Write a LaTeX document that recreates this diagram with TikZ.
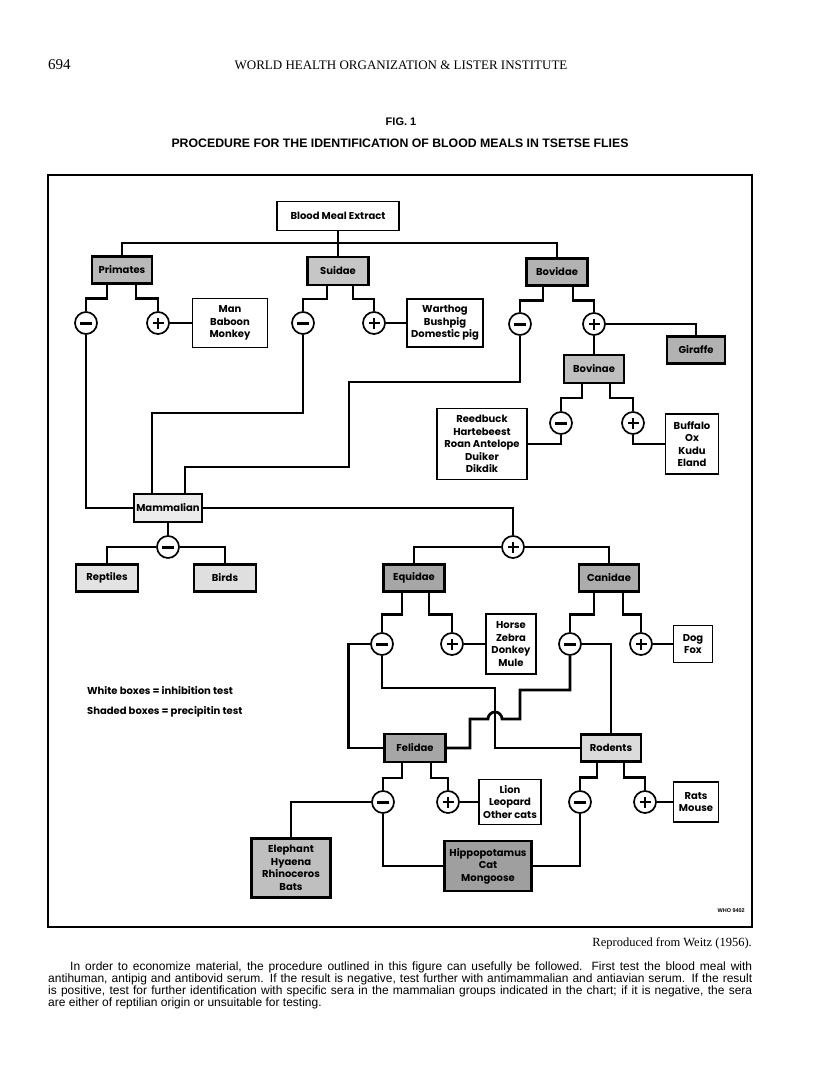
\documentclass[tikz,border=0pt]{standalone}
\usepackage{fontspec}
\setmainfont{Liberation Serif}
\newfontfamily\boxfont{Poppins}
\newfontfamily\capfont{Liberation Sans}
\usetikzlibrary{calc}

\begin{document}
\begin{tikzpicture}[
    x=1pt, y=-1pt,
    box/.style={draw, line width=1.6pt, fill=white, align=center, inner sep=2pt, font=\boxfont\bfseries\fontsize{10}{12.5}\selectfont},
    grbox/.style={box, line width=2.2pt, fill=gray!#1},
    sign/.style={circle, draw, line width=1.7pt, fill=white, minimum size=22pt, inner sep=0pt},
    pluscirc/.style={sign, path picture={\draw[line width=2.6pt] ($(path picture bounding box.center)+(-5.5pt,0)$) -- ++(11pt,0) ($(path picture bounding box.center)+(0,-5.5pt)$) -- ++(0,11pt);}},
    minuscirc/.style={sign, path picture={\draw[line width=3pt] ($(path picture bounding box.center)+(-6pt,0)$) -- ++(12pt,0);}},
    conn/.style={line width=2.7pt},
    plain/.style={inner sep=0pt},
    para/.style={plain, anchor=west, font=\capfont\fontsize{12}{12}\selectfont}
]
    \useasboundingbox (0,0) rectangle (816,1086);
    \fill[white] (0,0) rectangle (816,1086);

    \node[plain, anchor=west, font=\fontsize{15}{16}\selectfont] (page) at (48,65) {694};
    \node[plain, font=\fontsize{13}{15}\selectfont] (head) at (401,65) {WORLD HEALTH ORGANIZATION \& LISTER INSTITUTE};
    \node[plain, font=\capfont\bfseries\fontsize{11}{12}\selectfont] (fig) at (401,122) {FIG. 1};
    \node[plain, font=\capfont\bfseries\fontsize{12.3}{14}\selectfont] (title) at (400,143) {PROCEDURE FOR THE IDENTIFICATION OF BLOOD MEALS IN TSETSE FLIES};

    \draw[line width=1.5pt] (48,175) rectangle (752,927);

    \node[box, minimum width=122pt, minimum height=29pt] (extract) at (338,216) {Blood Meal Extract};
    \node[grbox=55, minimum width=60pt, minimum height=27pt] (primates) at (122,270) {Primates};
    \node[grbox=45, minimum width=61pt, minimum height=28pt] (suidae) at (338,271) {Suidae};
    \node[grbox=60, minimum width=61pt, minimum height=27pt] (bovidae) at (557,272) {Bovidae};
    \node[box, minimum width=75pt, minimum height=49pt] (man) at (230,323) {Man\\Baboon\\Monkey};
    \node[box, minimum width=76pt, minimum height=48pt] (pig) at (445,323) {Warthog\\Bushpig\\Domestic pig};
    \node[grbox=60, minimum width=58pt, minimum height=27pt] (giraffe) at (696,350) {Giraffe};
    \node[grbox=50, minimum width=60pt, minimum height=28pt] (bovinae) at (594,369) {Bovinae};
    \node[box, minimum width=90pt, minimum height=71pt] (reed) at (482,444) {Reedbuck\\Hartebeest\\Roan Antelope\\Duiker\\Dikdik};
    \node[box, minimum width=53pt, minimum height=60pt] (buffalo) at (692,444) {Buffalo\\Ox\\Kudu\\Eland};
    \node[grbox=15, minimum width=66pt, minimum height=28pt] (mammal) at (168,508) {Mammalian};
    \node[grbox=22, minimum width=62pt, minimum height=27pt] (reptiles) at (107,578) {Reptiles};
    \node[grbox=25, minimum width=62pt, minimum height=27pt] (birds) at (225,578) {Birds};
    \node[grbox=70, minimum width=61pt, minimum height=27pt] (equidae) at (414,578) {Equidae};
    \node[grbox=65, minimum width=60pt, minimum height=27pt] (canidae) at (609,578) {Canidae};
    \node[box, minimum width=50pt, minimum height=60pt] (horse) at (511,644) {Horse\\Zebra\\Donkey\\Mule};
    \node[box, minimum width=39pt, minimum height=37pt] (dog) at (693,644) {Dog\\Fox};
    \node[grbox=70, minimum width=61pt, minimum height=28pt] (felidae) at (415,748) {Felidae};
    \node[grbox=28, minimum width=60pt, minimum height=27pt] (rodents) at (611,748) {Rodents};
    \node[box, minimum width=62pt, minimum height=45pt] (lion) at (510,802) {Lion\\Leopard\\Other cats};
    \node[box, minimum width=45pt, minimum height=40pt] (rats) at (696,802) {Rats\\Mouse};
    \node[grbox=50, minimum width=79pt, minimum height=59pt] (elephant) at (291,868) {Elephant\\Hyaena\\Rhinoceros\\Bats};
    \node[grbox=75, minimum width=87pt, minimum height=50pt] (hippo) at (488,866) {Hippopotamus\\Cat\\Mongoose};

    \node[minuscirc] (m1) at (86,323) {};
    \node[pluscirc] (p1) at (158,323) {};
    \node[minuscirc] (m2) at (303,323) {};
    \node[pluscirc] (p2) at (374,323) {};
    \node[minuscirc] (m3) at (520,324) {};
    \node[pluscirc] (p3) at (594,324) {};
    \node[minuscirc] (m4) at (561,423) {};
    \node[pluscirc] (p4) at (633,423) {};
    \node[minuscirc] (m5) at (168,547) {};
    \node[pluscirc] (p5) at (513,547) {};
    \node[minuscirc] (m6) at (382,644) {};
    \node[pluscirc] (p6) at (452,644) {};
    \node[minuscirc] (m7) at (570,644) {};
    \node[pluscirc] (p7) at (641,644) {};
    \node[minuscirc] (m8) at (383,802) {};
    \node[pluscirc] (p8) at (448,802) {};
    \node[minuscirc] (m9) at (580,802) {};
    \node[pluscirc] (p9) at (645,802) {};

    \coordinate (trunk) at (338,243);
    \draw[conn] (extract.south) -- (suidae.north);
    \draw[conn] (primates.north) |- (trunk) -| (bovidae.north);

    \draw[conn] ([xshift=-15pt]primates.south) -- ++(0,14) -| (m1);
    \draw[conn] ([xshift=14pt]primates.south) -- ++(0,14) -| (p1);
    \draw[conn] (p1) -- (man);
    \draw[conn] ([xshift=-11pt]suidae.south) -- ++(0,13) -| (m2);
    \draw[conn] ([xshift=15pt]suidae.south) -- ++(0,13) -| (p2);
    \draw[conn] (p2) -- (pig);
    \draw[conn] ([xshift=-14pt]bovidae.south) -- ++(0,14) -| (m3);
    \draw[conn] ([xshift=16pt]bovidae.south) -- ++(0,14) -| (p3);
    \draw[conn] (p3) -| (giraffe);
    \draw[conn] (p3) -- (bovinae);
    \draw[conn] ([xshift=-12pt]bovinae.south) -- ++(0,14) -| (m4);
    \draw[conn] ([xshift=16pt]bovinae.south) -- ++(0,14) -| (p4);
    \draw[conn] (m4) |- (reed);
    \draw[conn] (p4) |- (buffalo);

    \draw[conn] (m1) |- (mammal);
    \draw[conn] (m2) -- ++(0,90) -| ([xshift=-16pt]mammal.north);
    \draw[conn] (m3) -- ++(0,58) -| ++(-171,85) -| ([xshift=17pt]mammal.north);
    \draw[conn] (mammal) -- (m5);
    \draw[conn] (m5) -| (reptiles);
    \draw[conn] (m5) -| (birds);
    \draw[conn] (mammal) -| (p5);
    \draw[conn] (p5) -| (equidae);
    \draw[conn] (p5) -| (canidae);

    \draw[conn] ([xshift=-12pt]equidae.south) -- ++(0,22) -| (m6);
    \draw[conn] ([xshift=15pt]equidae.south) -- ++(0,22) -| (p6);
    \draw[conn] (p6) -- (horse);
    \draw[conn] ([xshift=-15pt]canidae.south) -- ++(0,22) -| (m7);
    \draw[conn] ([xshift=14pt]canidae.south) -- ++(0,22) -| (p7);
    \draw[conn] (p7) -- (dog);

    \draw[conn] (m6.west) -- ++(-22,0) |- (felidae);
    \draw[conn] (m6) -- ++(0,44) -- ++(113,0) |- (rodents);
    \draw[conn] (m7) -- ++(0,46) -- ++(-50,0) -- ++(0,29) -- ++(-18,0) arc[start angle=0, end angle=-180, radius=7] -- ++(-18,0) |- (felidae);
    \draw[conn] (m7) -| (rodents);

    \draw[conn] ([xshift=-13pt]felidae.south) -- ++(0,15) -| (m8);
    \draw[conn] ([xshift=16pt]felidae.south) -- ++(0,15) -| (p8);
    \draw[conn] (p8) -- (lion);
    \draw[conn] (m8) -| (elephant);
    \draw[conn] (m8) |- (hippo);
    \draw[conn] ([xshift=-14pt]rodents.south) -- ++(0,15) -| (m9);
    \draw[conn] ([xshift=13pt]rodents.south) -- ++(0,15) -| (p9);
    \draw[conn] (p9) -- (rats);
    \draw[conn] (m9) |- (hippo);

    \node[plain, anchor=west, font=\boxfont\bfseries\fontsize{10}{12}\selectfont] (key1) at (87,691) {White boxes = inhibition test};
    \node[plain, anchor=west, font=\boxfont\bfseries\fontsize{10}{12}\selectfont] (key2) at (87,712) {Shaded boxes = precipitin test};
    \node[plain, anchor=east, font=\capfont\bfseries\fontsize{5.5}{6}\selectfont] (who) at (745,911) {WHO 9402};

    \node[plain, anchor=east, font=\fontsize{12.5}{14}\selectfont] (source) at (752,943) {Reproduced from Weitz (1956).};
    \node[para] (txt1) at (70,967) {\makebox[682pt][s]{In order to economize material, the procedure outlined in this figure can usefully be followed. First test the blood meal with}};
    \node[para] (txt2) at (48,979) {\makebox[704pt][s]{antihuman, antipig and antibovid serum. If the result is negative, test further with antimammalian and antiavian serum. If the result}};
    \node[para] (txt3) at (48,991) {\makebox[704pt][s]{is positive, test for further identification with specific sera in the mammalian groups indicated in the chart; if it is negative, the sera}};
    \node[para] (txt4) at (48,1003) {are either of reptilian origin or unsuitable for testing.};
\end{tikzpicture}
\end{document}
